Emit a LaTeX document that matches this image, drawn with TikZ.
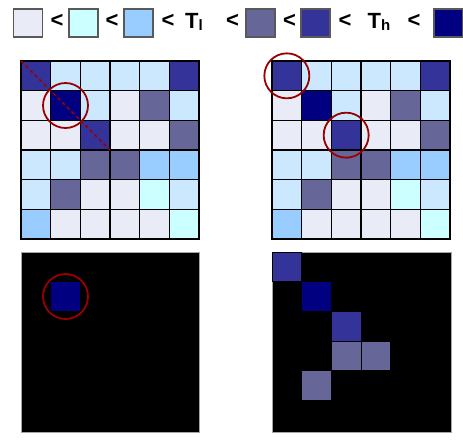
\documentclass[tikz,border=0pt]{standalone}
\usepackage{fontspec}
\setmainfont{Liberation Sans}
\definecolor{lvlA}{HTML}{E9ECF7}
\definecolor{lvlB}{HTML}{CCFFFF}
\definecolor{lvlC}{HTML}{99CCFF}
\definecolor{lvlD}{HTML}{666699}
\definecolor{lvlE}{HTML}{333399}
\definecolor{lvlF}{HTML}{000080}
\definecolor{lvlS}{HTML}{CCE8FF}
\definecolor{ringred}{HTML}{990000}
\tikzset{
  cell/.style = {fill=#1, draw=black, line width=1.2pt},
  maskcell/.style = {fill=#1, draw=black, line width=0.6pt},
  keybox/.style = {draw=black!65, line width=1.4pt, fill=#1, minimum width=29pt, minimum height=28pt, inner sep=0pt},
  keytext/.style = {font=\fontsize{22}{22}\selectfont\bfseries, inner sep=0pt},
  ring/.style = {color=ringred, line width=1.8pt},
  diag/.style = {color=ringred, line width=1.6pt, dash pattern=on 3.5pt off 3pt},
  mask/.style = {fill=black, draw=black!35, line width=0.8pt}
}
\def\cs{29.67}
\newcommand{\heatgrid}[2]{%
  % #1: bal felso sarok x
  % #2: bal felso sarok y
  \begin{scope}[shift={(#1,#2)}]
    \foreach \row [count=\i from 0] in {%
      {lvlE,lvlS,lvlS,lvlS,lvlS,lvlE},
      {lvlA,lvlF,lvlS,lvlA,lvlD,lvlS},
      {lvlA,lvlA,lvlE,lvlA,lvlA,lvlD},
      {lvlS,lvlS,lvlD,lvlD,lvlC,lvlC},
      {lvlS,lvlD,lvlA,lvlA,lvlB,lvlS},
      {lvlC,lvlA,lvlA,lvlA,lvlA,lvlB}} {
      \foreach \c [count=\j from 0] in \row {
        \draw[cell=\c] (\j*\cs,\i*\cs) rectangle ++(\cs,\cs);
      }
    }
  \end{scope}
}

\begin{document}
\begin{tikzpicture}[x=1pt, y=-1pt]

    \useasboundingbox (0,0) rectangle (463,440);

    % Legend
    \node[keybox={lvlA}] (key1) at (28,23) {};
    \node[keybox={lvlB}] (key2) at (83.5,23) {};
    \node[keybox={lvlC}] (key3) at (138.5,23) {};
    \node[keybox={lvlD}] (key4) at (260.5,23) {};
    \node[keybox={lvlE}] (key5) at (315.5,23) {};
    \node[keybox={lvlF}] (key6) at (448.5,23) {};
    \foreach \x [count=\k] in {57,112,168,232.5,289.5,345,414} {
      \node[keytext] (lt\k) at (\x,20.5) {<};
    }
    \node[keytext, anchor=base west] (tl) at (185,28) {T\raisebox{-2pt}{\fontsize{15}{15}\selectfont l}};
    \node[keytext, anchor=base west] (th) at (367.5,28) {T\raisebox{-2pt}{\fontsize{15}{15}\selectfont h}};

    % Matrices
    \heatgrid{21}{61}
    \heatgrid{272}{61}
    \draw[diag] (21,61) -- (21+3*\cs,61+3*\cs);

    % Masks
    \draw[mask] (21,252) rectangle (199,432);
    \draw[mask] (272,252) rectangle (451,432);
    \fill[lvlF] (21+\cs+0.5,252+\cs+0.5) rectangle ++(\cs-1,\cs-1);
    \begin{scope}[shift={(272,252)}]
      \foreach \i/\j/\c in {0/0/lvlE, 1/1/lvlF, 2/2/lvlE, 3/2/lvlD, 3/3/lvlD, 4/1/lvlD} {
        \draw[maskcell=\c] (\j*\cs,\i*\cs) rectangle ++(\cs,\cs);
      }
    \end{scope}

    % Rings
    \draw[ring] (21+1.5*\cs,61+1.5*\cs) circle[radius=22.5];
    \draw[ring] (272+0.5*\cs,61+0.5*\cs) circle[radius=22.5];
    \draw[ring] (272+2.5*\cs,61+2.5*\cs) circle[radius=22.5];
    \draw[ring] (21+1.5*\cs,252+1.5*\cs) circle[radius=22.5];

\end{tikzpicture}
\end{document}
